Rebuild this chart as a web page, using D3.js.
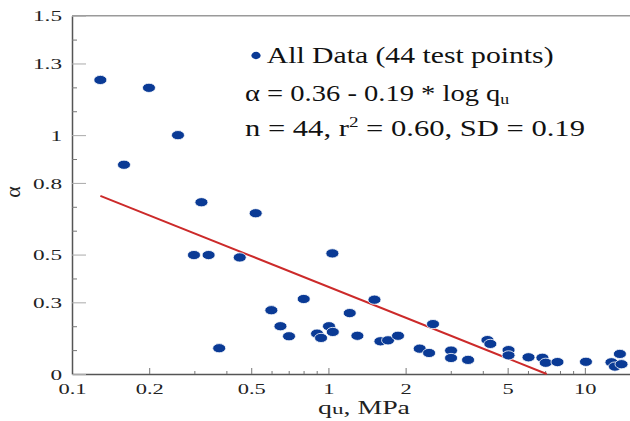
<!DOCTYPE html>
<html><head><meta charset="utf-8">
<script src="https://cdn.jsdelivr.net/npm/d3@7"></script>
<style>body{margin:0;background:#fff}svg{display:block}</style>
</head><body>
<svg id="c" width="630" height="421"></svg>
<script>
// ---- data ----
const qValues = [0.129, 0.1996, 0.1595, 0.259, 0.3197, 0.299, 0.341, 0.451, 0.5205, 1.036,
  0.375, 0.599, 0.801, 0.650, 0.702, 0.903, 0.936, 1.005, 1.04, 1.211,
  1.297, 1.512, 1.595, 1.708, 1.868, 2.27, 2.469, 2.558, 3.008, 3.008,
  3.504, 4.17, 4.28, 5.04, 5.04, 6.03, 6.83, 7.04, 7.82, 10.1,
  12.7, 13.1, 13.7, 13.9];
const alphaValues = [1.231, 1.198, 0.876, 1.0, 0.719, 0.498, 0.498, 0.488, 0.673, 0.505,
  0.108, 0.267, 0.314, 0.2, 0.158, 0.169, 0.151, 0.2, 0.176, 0.255,
  0.160, 0.311, 0.137, 0.141, 0.160, 0.106, 0.088, 0.209, 0.098, 0.067,
  0.059, 0.142, 0.126, 0.100, 0.078, 0.070, 0.068, 0.047, 0.050, 0.051,
  0.049, 0.031, 0.084, 0.041];
const fitQ = [0.129, 7.1];
const fitAlpha = [0.746, 0];
const xMajorTicks = [0.1, 0.2, 0.5, 1, 2, 5, 10];
const xMajorLabels = ["0.1", "0.2", "0.5", "1", "2", "5", "10"];
const xMinorTicks = [0.3, 0.4, 0.6, 0.7, 0.8, 0.9, 3, 4, 6, 7, 8, 9];
const yMajorTicks = [0, 0.3, 0.5, 0.8, 1, 1.3, 1.5];
const yMajorLabels = ["0", "0.3", "0.5", "0.8", "1", "1.3", "1.5"];
const yMinorTicks = [0.1, 0.2, 0.4, 0.6, 0.7, 0.9, 1.1, 1.2, 1.4];
const legendLabel = "All Data (44 test points)";

// ---- chart ----
const FONT = "'Liberation Serif','Times New Roman',serif";
const svg = d3.select("#c");
const L = 72, R = 630, T = 15.7, B = 374;
const x = d3.scaleLog().domain([0.1, 15]).range([L, R]);
const y = d3.scaleLinear().domain([0, 1.5]).range([B, T]);

// top border
svg.append("line").attr("x1", L).attr("x2", R).attr("y1", T).attr("y2", T)
  .attr("stroke", "#9a9a9a").attr("stroke-width", 1.5);

// x axis
const gx = svg.append("g").attr("transform", `translate(0,${B})`);
gx.call(d3.axisBottom(x).tickValues(xMajorTicks).tickSizeInner(-6).tickSizeOuter(0)
  .tickFormat((d, i) => xMajorLabels[i]));
const gxm = svg.append("g").attr("transform", `translate(0,${B})`);
gxm.call(d3.axisBottom(x).tickValues(xMinorTicks).tickSizeInner(-3).tickSizeOuter(0).tickFormat(""));
gxm.select(".domain").remove();
[gx, gxm].forEach(g => {
  g.select(".domain").attr("stroke", "#555").attr("stroke-width", 1.3);
  g.selectAll(".tick line").attr("stroke", "#777");
});
gx.selectAll(".tick text").attr("y", 20).attr("dy", 0)
  .attr("font-family", FONT).attr("font-size", 15.5).attr("fill", "#222")
  .attr("transform", "scale(1.45,1)");

// y axis
const gy = svg.append("g").attr("transform", `translate(${L},0)`);
gy.call(d3.axisLeft(y).tickValues(yMajorTicks).tickSizeInner(-14).tickSizeOuter(0)
  .tickFormat((d, i) => yMajorLabels[i]));
const gym = svg.append("g").attr("transform", `translate(${L},0)`);
gym.call(d3.axisLeft(y).tickValues(yMinorTicks).tickSizeInner(-5).tickSizeOuter(0).tickFormat(""));
gym.select(".domain").remove();
gy.select(".domain").attr("stroke", "#555").attr("stroke-width", 1.5);
gy.selectAll(".tick line").attr("stroke", "#aaa");
gym.selectAll(".tick line").attr("stroke", "#777");
gy.selectAll(".tick text").attr("x", -10 / 1.55).attr("dy", "0.35em")
  .attr("font-family", FONT).attr("font-size", 15).attr("fill", "#222")
  .attr("transform", "scale(1.55,1)");

// axis titles
const xt = svg.append("text").attr("font-family", FONT).attr("font-size", 18).attr("fill", "#222");
xt.append("tspan").text("q");
xt.append("tspan").attr("font-size", 15).text("u");
xt.append("tspan").text(", MPa");
fit(xt, 318, 414, 92);

svg.append("text").attr("font-family", FONT).attr("font-size", 22).attr("fill", "#222")
  .attr("text-anchor", "middle")
  .attr("transform", "translate(20,192) rotate(-90)").text("α");

// fit line
svg.append("line")
  .attr("x1", x(fitQ[0])).attr("y1", y(fitAlpha[0]))
  .attr("x2", x(fitQ[1])).attr("y2", y(fitAlpha[1]))
  .attr("stroke", "#cc2a2a").attr("stroke-width", 2);

// points
const pts = qValues.map((q, i) => ({q, a: alphaValues[i]}));
svg.append("g").selectAll("ellipse").data(pts).join("ellipse")
  .attr("cx", d => x(d.q)).attr("cy", d => y(d.a))
  .attr("rx", 6.5).attr("ry", 4.6)
  .attr("fill", "#0a3a95").attr("stroke", "#fff").attr("stroke-width", 0.8);

// legend / annotation
svg.append("ellipse").attr("cx", 256).attr("cy", 55.5).attr("rx", 4.6).attr("ry", 3.7).attr("fill", "#0a3a95");
const t1 = svg.append("text").attr("font-family", FONT).attr("font-size", 24).attr("fill", "#111").text(legendLabel);
fit(t1, 266.7, 63, 287);

const t2 = svg.append("text").attr("font-family", FONT).attr("font-size", 24).attr("fill", "#111");
t2.append("tspan").text("α = 0.36 - 0.19 * log q");
t2.append("tspan").attr("font-size", 15).attr("dy", 3).text("u");
fit(t2, 245, 101, 265);

const t3 = svg.append("text").attr("font-family", FONT).attr("font-size", 24).attr("fill", "#111");
t3.append("tspan").text("n = 44, r");
t3.append("tspan").attr("font-size", 15).attr("dy", -9).text("2");
t3.append("tspan").attr("dy", 9).text(" = 0.60, SD = 0.19");
fit(t3, 245, 136, 340);

function fit(sel, px, py, w) {
  const nat = sel.node().getBBox().width;
  sel.attr("transform", `translate(${px},${py}) scale(${w / nat},1)`);
}
</script>
</body></html>
